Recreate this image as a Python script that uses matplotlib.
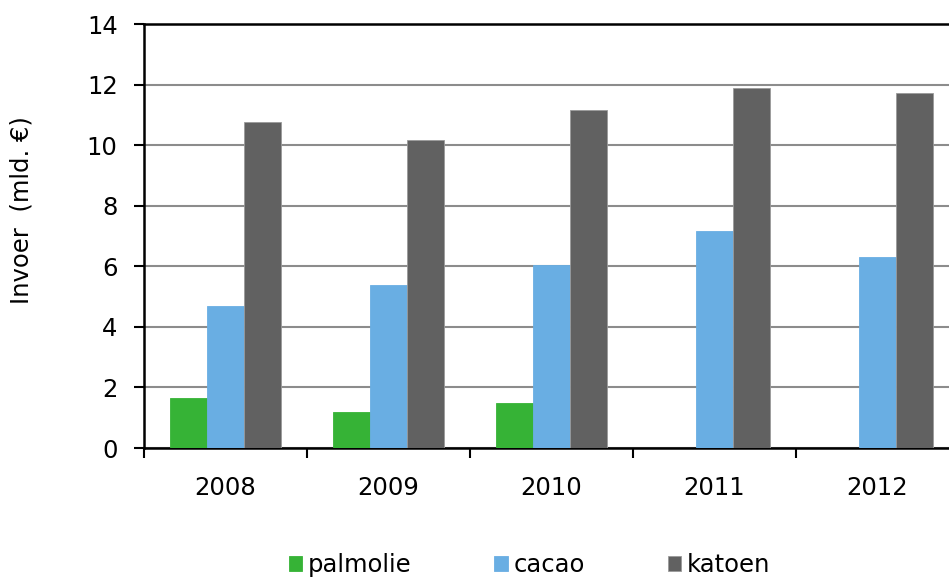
import numpy as np
import matplotlib
matplotlib.use("Agg")
import matplotlib.pyplot as plt

# ===== DATA =====
years = ["2008", "2009", "2010", "2011", "2012"]
palmolie = [1.65, 1.18, 1.49, 0, 0]
cacao = [4.69, 5.38, 6.04, 7.16, 6.31]
katoen = [10.76, 10.17, 11.16, 11.89, 11.72]

series_names = ["palmolie", "cacao", "katoen"]
colors = ["#36b336", "#69aee3", "#616161"]

plt.rcParams["font.family"] = ["DejaVu Sans"]
plt.rcParams["font.size"] = 17.5

fig = plt.figure(figsize=(9.49, 5.79), dpi=100)
ax = fig.add_axes([144 / 949, 1 - 448 / 579, 815 / 949, 424 / 579])

x = np.arange(len(years))
width = 0.227
for i, (vals, name, col) in enumerate(zip([palmolie, cacao, katoen], series_names, colors)):
    ax.bar(x + (i - 1) * width, vals, width, color=col, label=name,
           edgecolor="#9a9a9a" if name == "katoen" else col, linewidth=0.6, zorder=3)

ax.set_xlim(-0.5, len(years) - 0.5)
ax.set_ylim(0, 14)
ax.set_yticks(range(0, 15, 2))
ax.set_xticks(x)
ax.set_xticklabels(years)
ax.set_xticks(np.arange(-0.5, len(years), 1.0), minor=True)
ax.tick_params(axis="x", which="major", length=0, pad=20)
ax.tick_params(axis="x", which="minor", length=7, width=1.5, direction="out")
ax.tick_params(axis="y", length=7, width=1.5, direction="out", pad=12)

ax.yaxis.grid(True, color="#8c8c8c", linewidth=1.5, zorder=0)
ax.set_axisbelow(True)
for s in ["left", "bottom", "top"]:
    ax.spines[s].set_linewidth(1.8)
    ax.spines[s].set_color("black")
ax.spines["right"].set_visible(False)

ax.set_ylabel("Invoer  (mld. €)")
ax.yaxis.set_label_coords(-0.135, 0.56)

fig.legend(loc="center", bbox_to_anchor=(0.558, 0.024), ncol=3, frameon=False,
           handlelength=0.55, handleheight=0.55, handletextpad=0.25,
           columnspacing=3.4, fontsize=17.5)

fig.savefig("out.png", dpi=100)
